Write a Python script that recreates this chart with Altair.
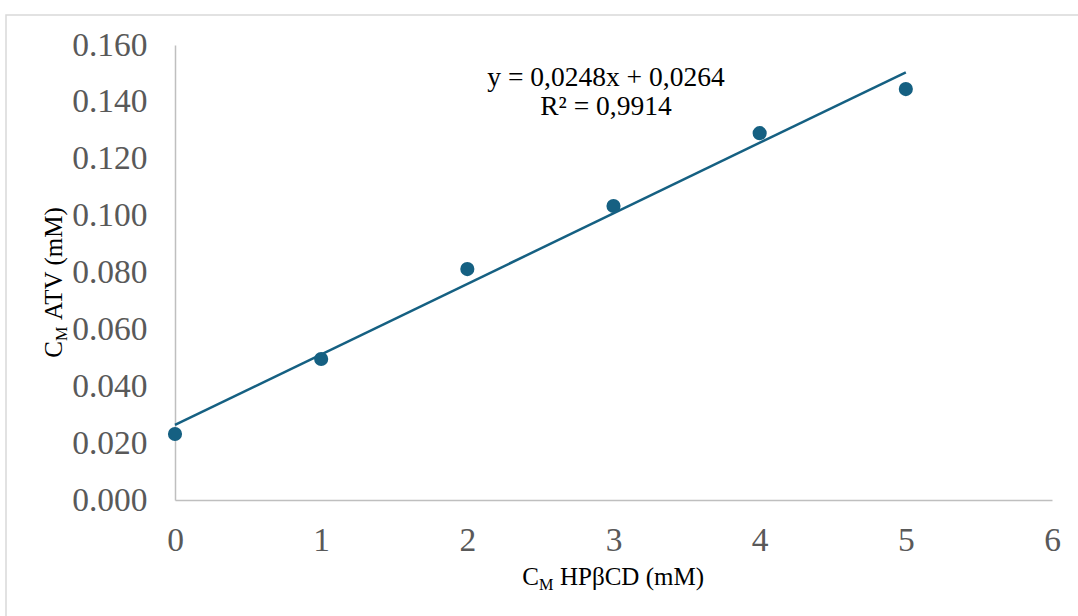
import altair as alt
import pandas as pd

# Solubility data: host concentration vs. drug concentration (mM)
hp_conc = [0, 1, 2, 3, 4, 5]
atv_conc = [0.0232, 0.0496, 0.0812, 0.1034, 0.1290, 0.1445]

# Linear fit reported on the chart
slope = 0.0248
intercept = 0.0264
r_squared = 0.9914

x_ticks = [0, 1, 2, 3, 4, 5, 6]
y_ticks = [0.0, 0.02, 0.04, 0.06, 0.08, 0.10, 0.12, 0.14, 0.16]

FONT = "Liberation Serif"
BLUE = "#156082"
TITLE_SIZE = 25

points = pd.DataFrame({"x": hp_conc, "y": atv_conc})
fit = pd.DataFrame({"x": [hp_conc[0], hp_conc[-1]]})
fit["y"] = slope * fit["x"] + intercept

x_enc = alt.X(
    "x:Q",
    scale=alt.Scale(domain=[0, 6], nice=False),
    axis=alt.Axis(values=x_ticks, format="d", title=None, grid=False, ticks=False,
                  labelPadding=24, labelFlush=False),
)
y_enc = alt.Y(
    "y:Q",
    scale=alt.Scale(domain=[0, 0.16], nice=False),
    axis=alt.Axis(values=y_ticks, format=".3f", title=None, grid=False, ticks=False,
                  labelPadding=28, labelFlush=False),
)

line = alt.Chart(fit).mark_line(color=BLUE, strokeWidth=2.5).encode(x=x_enc, y=y_enc)
dots = alt.Chart(points).mark_circle(color=BLUE, size=200, opacity=1).encode(
    x="x:Q", y="y:Q"
)

eq_text = pd.DataFrame({
    "t": [f"y = {slope:.4f}x + {intercept:.4f}".replace(".", ","),
          f"R² = {r_squared:.4f}".replace(".", ",")],
    "py": [41, 70],
})
equation = alt.Chart(eq_text).mark_text(
    font=FONT, fontSize=27.5, color="black", align="center", baseline="alphabetic"
).encode(x=alt.value(431), y=alt.Y("py:Q", scale=None), text="t:N")


def axis_title(px, py, angle, rest):
    """Axis title 'C' + subscript 'M' + remainder, anchored at the end of 'C'."""
    common = dict(font=FONT, color="black", baseline="alphabetic", angle=angle)
    c = alt.Chart(pd.DataFrame({"t": ["C"]})).mark_text(
        align="right", fontSize=TITLE_SIZE, **common
    ).encode(x=alt.value(px), y=alt.value(py), text="t:N")
    sub = alt.Chart(pd.DataFrame({"t": ["M"]})).mark_text(
        align="left", fontSize=TITLE_SIZE * 0.65, dy=5, **common
    ).encode(x=alt.value(px), y=alt.value(py), text="t:N")
    tail = alt.Chart(pd.DataFrame({"t": [rest]})).mark_text(
        align="left", fontSize=TITLE_SIZE, dx=21, **common
    ).encode(x=alt.value(px), y=alt.value(py), text="t:N")
    return [c, sub, tail]


x_title = axis_title(364, 540, 0, "HPβCD (mM)")
y_title = axis_title(-113, 296, 270, "ATV (mM)")

frame = alt.Chart(pd.DataFrame({"k": [0]})).mark_rect(
    fill=None, stroke="#d9d9d9", strokeWidth=1.5
).encode(x=alt.value(-169), x2=alt.value(920), y=alt.value(-30), y2=alt.value(590))

chart = alt.layer(frame, line, dots, equation, *x_title, *y_title).properties(
    width=877,
    height=455,
    padding={"left": 175, "top": 45, "right": 26, "bottom": 116},
    autosize=alt.AutoSizeParams(type="none"),
    background="white",
).configure_view(stroke=None).configure_axis(
    domainColor="#bfbfbf",
    domainWidth=1.5,
    labelFont=FONT,
    labelFontSize=33.5,
    labelColor="#595959",
)

chart.save("out.html", embed_options={"renderer": "svg", "actions": False})
